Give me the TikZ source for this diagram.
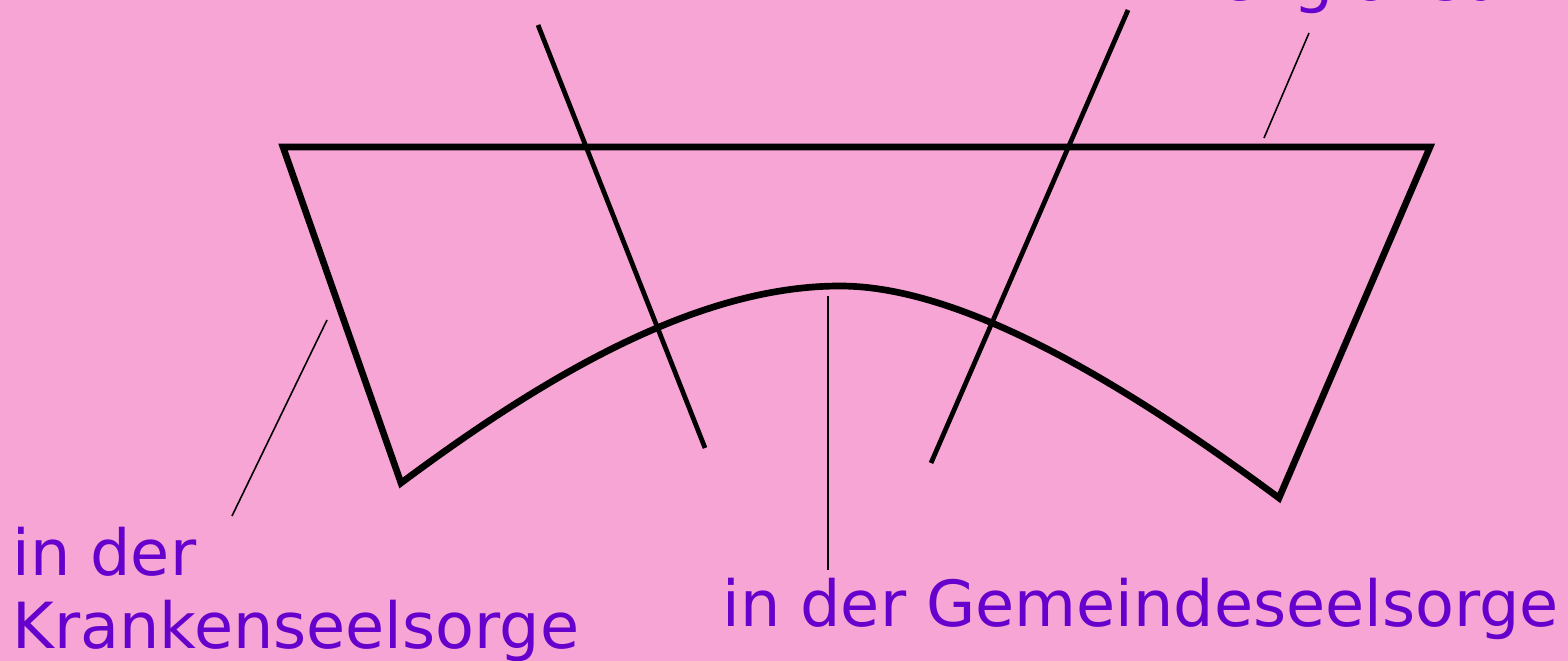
\documentclass[tikz,border=0pt]{standalone}
\usepackage{fontspec}
\setmainfont{DejaVu Sans}
\definecolor{bgpink}{RGB}{247,165,212}
\definecolor{labelpurple}{RGB}{102,0,204}
\tikzset{
  lbl/.style={inner sep=0pt, anchor=base west, text=labelpurple, font=\fontsize{36.2}{43.5}\selectfont, align=left},
  frame/.style={line width=3.8pt, line join=miter},
  cross/.style={line width=2.7pt},
  pointer/.style={line width=0.9pt}
}
\begin{document}
\begin{tikzpicture}[x=0.02cm,y=-0.02cm]
\fill[bgpink] (0,0) rectangle (1568,661);
\useasboundingbox (0,0) rectangle (1568,661);
\clip (0,0) rectangle (1568,661);
% corners
\coordinate (tl) at (283,147);
\coordinate (tr) at (1430,147);
\coordinate (bl) at (401,483);
\coordinate (br) at (1279,498);
\coordinate (peak) at (840,286);
% frame and curve
\draw[frame] (bl) -- (tl) -- (tr) -- (br)
  .. controls (1120,380) and (960,286) .. (peak)
  .. controls (700,286) and (550,372) .. (bl) -- cycle;
% crossing lines
\coordinate (c1a) at (538,25);
\coordinate (c1b) at (705,448);
\coordinate (c2a) at (1128,10);
\coordinate (c2b) at (931,463);
\draw[cross] (c1a) -- (c1b);
\draw[cross] (c2a) -- (c2b);
% labels
\node[lbl] (rel) at (1177,0.5) {Religionsunterricht};
\node[lbl] (kr1) at (12,576) {in der};
\node[lbl] (kr2) at (12,648) {Krankenseelsorge};
\node[lbl] (gem) at (722,626) {in der Gemeindeseelsorge};
% pointers
\coordinate (p1a) at (1309,33);
\coordinate (p1b) at (1264,138);
\coordinate (p2a) at (232,516);
\coordinate (p2b) at (327,320);
\coordinate (p3a) at (828,570);
\coordinate (p3b) at (828,296);
\draw[pointer] (p1a) -- (p1b);
\draw[pointer] (p2a) -- (p2b);
\draw[pointer] (p3a) -- (p3b);
\end{tikzpicture}
\end{document}
